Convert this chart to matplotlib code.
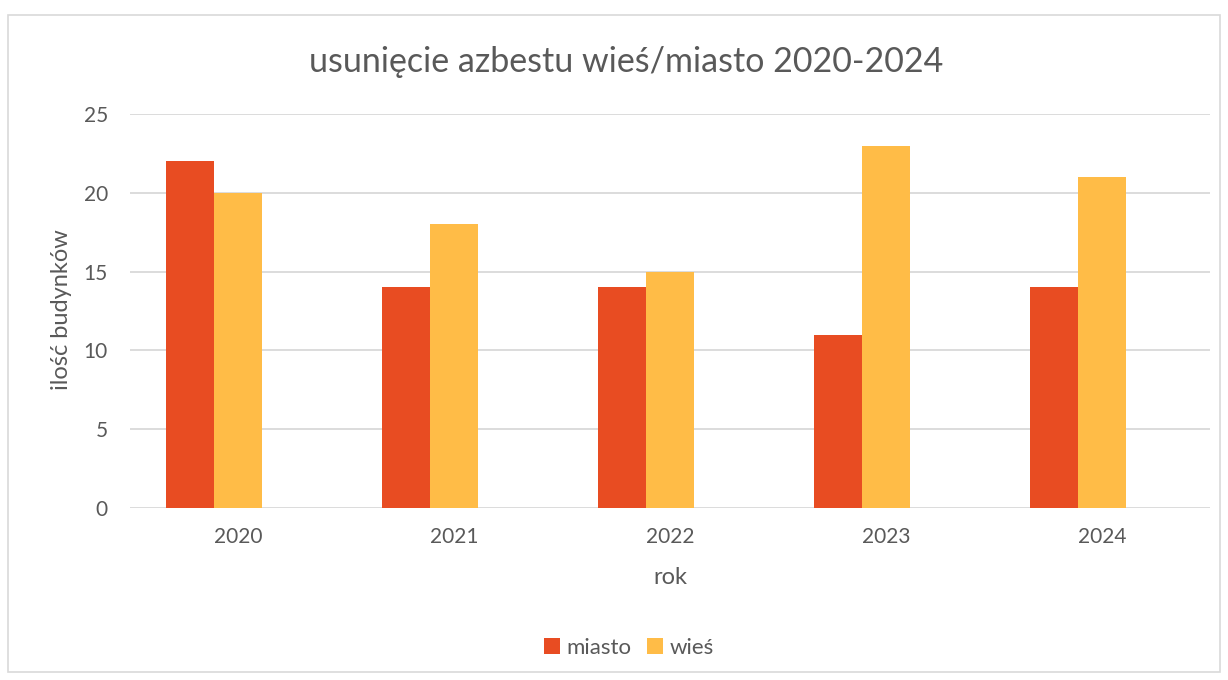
import numpy as np
from matplotlib import pyplot as plt
from matplotlib.patches import Rectangle

# Data
years = ["2020", "2021", "2022", "2023", "2024"]
miasto = [22, 14, 14, 11, 14]
wies = [20, 18, 15, 23, 21]
y_ticks = [0, 5, 10, 15, 20, 25]

W, H = 1228, 680
text_color = "#595959"
grid_color = "#D9D9D9"
plt.rcParams["font.family"] = ["Lato", "DejaVu Sans"]

fig = plt.figure(figsize=(W / 100, H / 100), dpi=100)
fig.patch.set_facecolor("white")

# chart border
fig.patches.append(Rectangle((8 / W, 1 - 672 / H), 1212 / W, 657 / H,
                             transform=fig.transFigure, fill=False,
                             edgecolor=grid_color, linewidth=1.2))

ax = fig.add_axes([130 / W, 1 - 508 / H, 1080 / W, 394 / H])
x = np.arange(len(years))
bw = 0.222
# cluster is laid out for three slots, the bars fill the first two
ax.bar(x - bw, miasto, bw, color="#E84C22", label="miasto", zorder=3)
ax.bar(x, wies, bw, color="#FFBC47", label="wieś", zorder=3)

ax.set_xlim(-0.5, len(years) - 0.5)
ax.set_ylim(0, 25)
ax.set_yticks(y_ticks)
ax.set_xticks(x, years)
ax.grid(axis="y", color=grid_color, linewidth=1.3, zorder=0)
for s in ax.spines.values():
    s.set_visible(False)
ax.tick_params(axis="both", length=0, labelsize=15, colors=text_color)
ax.tick_params(axis="y", pad=16)
ax.tick_params(axis="x", pad=14)

fig.text(626 / W, 1 - 62 / H, "usunięcie azbestu wieś/miasto 2020-2024",
         ha="center", va="center", fontsize=24.5, color=text_color)
fig.text(62 / W, 1 - 310 / H, "ilość budynków", rotation=90,
         ha="center", va="center", fontsize=17, color=text_color)
fig.text(670 / W, 1 - 578 / H, "rok", ha="center", va="center",
         fontsize=17, color=text_color)

fig.legend(loc="center", bbox_to_anchor=(629 / W, 1 - 648 / H), ncol=2,
           frameon=False, fontsize=16, labelcolor=text_color,
           handlelength=0.7, handleheight=0.7, handletextpad=0.3,
           columnspacing=0.7)

fig.savefig("out.png", dpi=100)
